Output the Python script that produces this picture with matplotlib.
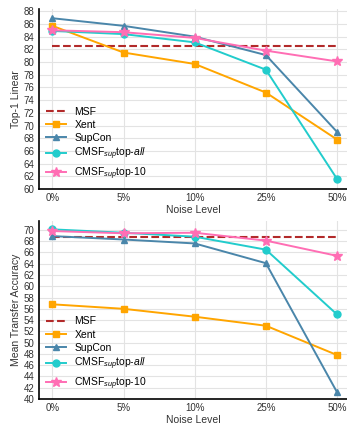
#!/usr/bin/env python3
"""
Noise robustness: top-1 linear and mean transfer accuracy vs label noise.
"""

import numpy as np
import matplotlib
import matplotlib.pyplot as plt

matplotlib.rcParams['font.family'] = ['Liberation Sans', 'DejaVu Sans']
matplotlib.rcParams['mathtext.fontset'] = 'custom'
matplotlib.rcParams['mathtext.rm'] = 'Liberation Sans'
matplotlib.rcParams['mathtext.it'] = 'Liberation Sans:italic'

noise_levels = ["0%", "5%", "10%", "25%", "50%"]

# top-1 linear
msf_top1 = 82.5
xent_top1 = [85.7, 81.5, 79.7, 75.2, 67.8]
supcon_top1 = [86.9, 85.7, 84.0, 81.1, 69.0]
cmsf_all_top1 = [84.9, 84.4, 83.1, 78.8, 61.6]
cmsf_10_top1 = [85.0, 84.7, 83.8, 81.8, 80.1]

# mean transfer accuracy
msf_transfer = 68.7
xent_transfer = [56.8, 56.0, 54.6, 53.0, 47.8]
supcon_transfer = [68.9, 68.3, 67.6, 64.1, 41.2]
cmsf_all_transfer = [70.1, 69.5, 68.8, 66.5, 55.0]
cmsf_10_transfer = [69.8, 69.4, 69.5, 68.1, 65.4]


def draw_panel(ax, msf, xent, supcon, cmsf_all, cmsf_10, ylabel, ylim, yticks):
    x = np.arange(len(noise_levels))
    ax.plot([x[0], x[-1]], [msf, msf], '--', color='#b22a2a', lw=1.5, label='MSF')
    ax.plot(x, xent, '-s', color='#ffa500', lw=1.4, ms=5, label='Xent')
    ax.plot(x, supcon, '-^', color='#4a86aa', lw=1.4, ms=5, label='SupCon')
    ax.plot(x, cmsf_all, '-o', color='#22cccc', lw=1.4, ms=5,
            label=r'CMSF$_{sup}$top-$all$')
    ax.plot(x, cmsf_10, '-*', color='#ff6eb4', lw=1.4, ms=7,
            label=r'CMSF$_{sup}$top-10')

    ax.set_xticks(x)
    ax.set_xticklabels(noise_levels)
    ax.set_xlim(-0.19, 4.14)
    ax.set_ylim(*ylim)
    ax.set_yticks(yticks)
    ax.set_xlabel('Noise Level', fontsize=7.5, color='#333333', labelpad=1)
    ax.set_ylabel(ylabel, fontsize=7.5, color='#333333', labelpad=2)
    ax.tick_params(labelsize=7, colors='#333333', length=0, pad=3)
    ax.grid(True, color='#e3e3e3', lw=0.8)
    ax.set_axisbelow(True)
    for s in ['top', 'right']:
        ax.spines[s].set_visible(False)
    for s in ['left', 'bottom']:
        ax.spines[s].set_color('black')
        ax.spines[s].set_linewidth(1.2)
    ax.legend(loc='lower left', frameon=False, fontsize=7.5, handlelength=1.9,
              handletextpad=0.8, labelspacing=0.3, borderaxespad=0.3)


fig = plt.figure(figsize=(3.47, 4.24), dpi=100)
ax1 = fig.add_axes([0.112, 0.554, 0.888, 0.424])
ax2 = fig.add_axes([0.112, 0.059, 0.888, 0.420])

draw_panel(ax1, msf_top1, xent_top1, supcon_top1, cmsf_all_top1, cmsf_10_top1,
           'Top-1 Linear', (60, 88.3), np.arange(60, 89, 2))
draw_panel(ax2, msf_transfer, xent_transfer, supcon_transfer, cmsf_all_transfer,
           cmsf_10_transfer, 'Mean Transfer Accuracy', (40, 71.6), np.arange(40, 71, 2))

fig.savefig('out.png', dpi=100)
plt.close()
